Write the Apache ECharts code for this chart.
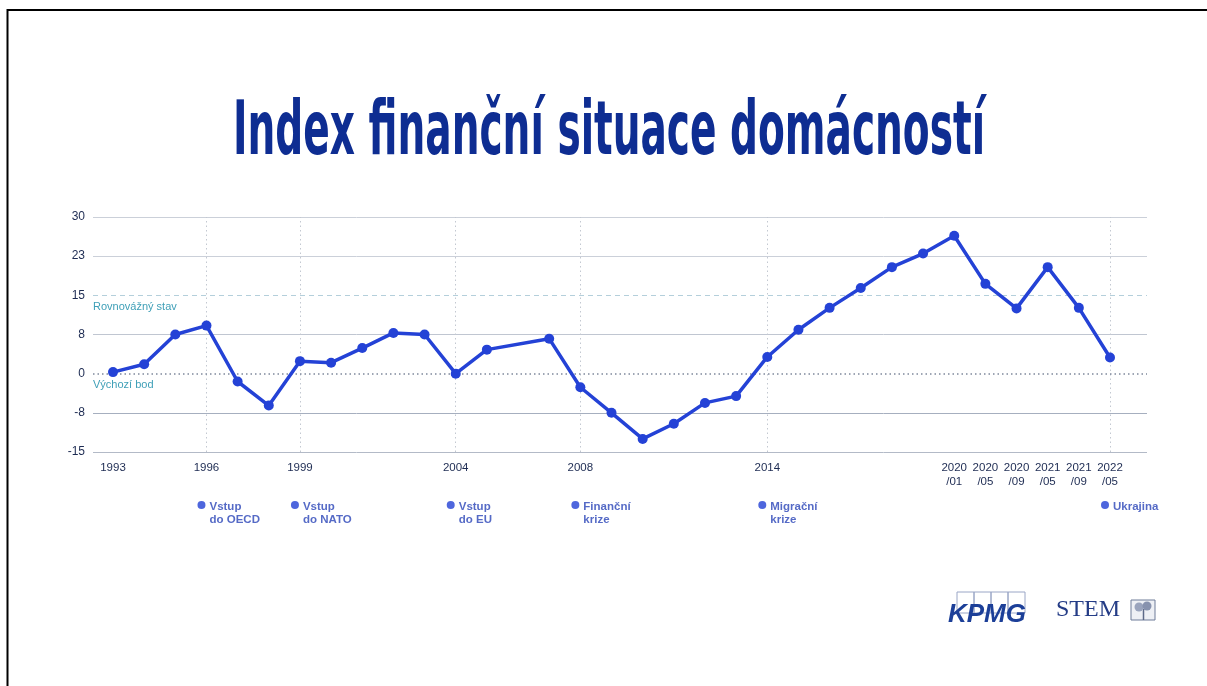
<!DOCTYPE html>
<html>
<head>
<meta charset="utf-8">
<script src="https://cdn.jsdelivr.net/npm/echarts@6/dist/echarts.min.js"></script>
<style>
html,body{margin:0;padding:0;background:#fff;}
#chart{width:1207px;height:686px;}
</style>
</head>
<body>
<div id="chart"></div>
<script>
const titleText = 'Index finanční situace domácností';

const categories = ['1993','1994','1995','1996','1997','1998','1999','2000','2001','2002','2003','2004','2005','2006','2007','2008','2009','2010','2011','2012','2013','2014','2015','2016','2017','2018','2019','2020/01','2020/05','2020/09','2021/05','2021/09','2022/05'];
const values = [0.3, 1.8, 7.5, 9.2, -1.5, -6.1, 2.4, 2.1, 4.9, 7.8, 7.5, 0, 4.6, null, 6.7, -2.6, -7.5, -12.5, -9.6, -5.6, -4.3, 3.2, 8.4, 12.6, 16.4, 20.4, 23.0, 26.4, 17.2, 12.5, 20.4, 12.6, 3.1];

const shownLabels = ['1993','1996','1999','2004','2008','2014','2020/01','2020/05','2020/09','2021/05','2021/09','2022/05'];

const yTicks = [-15, -7.5, 0, 7.5, 15, 22.5, 30];
const yTickLabels = ['-15', '-8', '0', '8', '15', '23', '30'];

const refValues = [15, 0];
const refLabels = ['Rovnovážný stav', 'Výchozí bod'];

const eventCats = ['1996','1999','2004','2008','2014','2022/05'];
const eventLabels = ['Vstup\ndo OECD','Vstup\ndo NATO','Vstup\ndo EU','Finanční\nkrize','Migrační\nkrize','Ukrajina'];

// measure title to fit condensed width
const titleFont = 'bold 74px "DejaVu Sans Condensed"';
const cv = document.createElement('canvas').getContext('2d');
cv.font = titleFont;
const tw = cv.measureText(titleText).width || 1000;
const titleScale = 752 / tw;

const chart = echarts.init(document.getElementById('chart'), null, {renderer: 'canvas'});

const tickLabelMap = {};
yTicks.forEach((t, i) => { tickLabelMap[t] = yTickLabels[i]; });

const labelFont = '"Liberation Sans", Arial, sans-serif';

const option = {
  backgroundColor: '#ffffff',
  animation: false,
  grid: [
    {left: 93, right: 60, top: 217, bottom: 234},
    {left: 113, right: 97, top: 217, bottom: 234},
    {left: 113, right: 97, top: 495, height: 20}
  ],
  xAxis: [
    {type: 'value', gridIndex: 0, min: 0, max: 1, show: false},
    {
      type: 'category', gridIndex: 1, data: categories, boundaryGap: false,
      axisLine: {show: false}, axisTick: {show: false}, splitLine: {show: false},
      axisLabel: {
        interval: (idx, val) => shownLabels.indexOf(val) >= 0,
        formatter: v => v.replace('/', '\n/'),
        color: '#1d2b52', fontSize: 11.5, fontFamily: labelFont, lineHeight: 14, margin: 9
      }
    },
    {type: 'category', gridIndex: 2, data: categories, boundaryGap: false, show: false}
  ],
  yAxis: [
    {
      type: 'value', gridIndex: 0, min: -15, max: 30, interval: 7.5,
      axisLine: {show: false}, axisTick: {show: false},
      axisLabel: {
        formatter: v => tickLabelMap[v] !== undefined ? tickLabelMap[v] : String(v),
        color: '#1d2b52', fontSize: 12, fontFamily: labelFont, margin: 8
      },
      splitLine: {
        show: true,
        lineStyle: {
          width: 1,
          color: ['#b3bac7', '#a6afbf', 'rgba(0,0,0,0)', '#c0c6d1', 'rgba(0,0,0,0)', '#cbd0d9', '#cbd0d9']
        }
      }
    },
    {type: 'value', gridIndex: 1, min: -15, max: 30, interval: 7.5, show: false, splitLine: {show: false}},
    {type: 'value', gridIndex: 2, min: -1, max: 1, show: false, splitLine: {show: false}}
  ],
  series: [
    {
      type: 'line', xAxisIndex: 0, yAxisIndex: 0,
      data: [[0, 0], [1, 0]], symbol: 'none', lineStyle: {opacity: 0}, silent: true, z: 1,
      markLine: {
        silent: true, symbol: ['none', 'none'],
        data: refValues.map((v, i) => ({
          yAxis: v,
          lineStyle: i === 0
            ? {type: [5, 4], color: '#b4cfdb', width: 1}
            : {type: [1.5, 3], color: '#7f899c', width: 1.5},
          label: {
            show: true, formatter: refLabels[i], position: 'insideStartBottom', distance: [0, 6],
            color: '#3e9fb7', fontSize: 11, fontFamily: labelFont
          }
        }))
      }
    },
    {
      type: 'line', xAxisIndex: 1, yAxisIndex: 1,
      data: values, connectNulls: true,
      symbol: 'circle', symbolSize: 10, showAllSymbol: true,
      itemStyle: {color: '#2442d6'},
      lineStyle: {color: '#2442d6', width: 3.5},
      z: 5,
      markLine: {
        silent: true, symbol: ['none', 'none'], z: 2,
        lineStyle: {type: [1.5, 3], color: '#c3c8d1', width: 1},
        label: {show: false},
        data: eventCats.map(c => ({xAxis: c}))
      }
    },
    {
      type: 'scatter', xAxisIndex: 2, yAxisIndex: 2,
      data: eventCats.map((c, i) => ({value: [c, 0], name: eventLabels[i]})),
      symbol: 'circle', symbolSize: 8, symbolOffset: [-5, 0],
      itemStyle: {color: '#2240d4'},
      label: {
        show: true, position: 'right', distance: 4, formatter: p => p.name,
        align: 'left', verticalAlign: 'top', offset: [0, -5],
        color: '#2b45b8', fontSize: 11.5, fontWeight: 'bold', fontFamily: labelFont, lineHeight: 13
      }
    }
  ],
  graphic: [
    {type: 'line', shape: {x1: 7, y1: 10, x2: 1207, y2: 10}, style: {stroke: '#000', lineWidth: 2}},
    {type: 'line', shape: {x1: 7.5, y1: 9, x2: 7.5, y2: 686}, style: {stroke: '#000', lineWidth: 2}},
    {
      type: 'text', x: 609, y: 135, scaleX: titleScale, scaleY: 1,
      style: {
        text: titleText, font: titleFont, fill: '#0e2d92',
        align: 'center', verticalAlign: 'middle'
      }
    },
    // KPMG logo
    {type: 'rect', shape: {x: 957, y: 592, width: 17, height: 21}, style: {fill: 'none', stroke: '#9aa6c6', lineWidth: 1}},
    {type: 'rect', shape: {x: 974, y: 592, width: 17, height: 21}, style: {fill: 'none', stroke: '#9aa6c6', lineWidth: 1}},
    {type: 'rect', shape: {x: 991, y: 592, width: 17, height: 21}, style: {fill: 'none', stroke: '#9aa6c6', lineWidth: 1}},
    {type: 'rect', shape: {x: 1008, y: 592, width: 17, height: 21}, style: {fill: 'none', stroke: '#9aa6c6', lineWidth: 1}},
    {
      type: 'text', x: 948, y: 628,
      style: {text: 'KPMG', font: 'italic bold 26px "Liberation Sans", Arial', fill: '#1c3f98', align: 'left', verticalAlign: 'bottom'}
    },
    // STEM logo
    {
      type: 'text', x: 1056, y: 622,
      style: {text: 'STEM', font: '24px "Liberation Serif", "DejaVu Serif", serif', fill: '#243c86', align: 'left', verticalAlign: 'bottom'}
    },
    {type: 'rect', shape: {x: 1131, y: 600, width: 24, height: 20}, style: {fill: '#eef0f5', stroke: '#6f7c99', lineWidth: 1}},
    {type: 'line', shape: {x1: 1143.5, y1: 609, x2: 1143.5, y2: 620}, style: {stroke: '#5d6a88', lineWidth: 1.5}},
    {type: 'circle', shape: {cx: 1139, cy: 607, r: 4.5}, style: {fill: '#9aa4bd'}},
    {type: 'circle', shape: {cx: 1147, cy: 606, r: 4.5}, style: {fill: '#8792ae'}}
  ]
};

chart.setOption(option);
</script>
</body>
</html>
